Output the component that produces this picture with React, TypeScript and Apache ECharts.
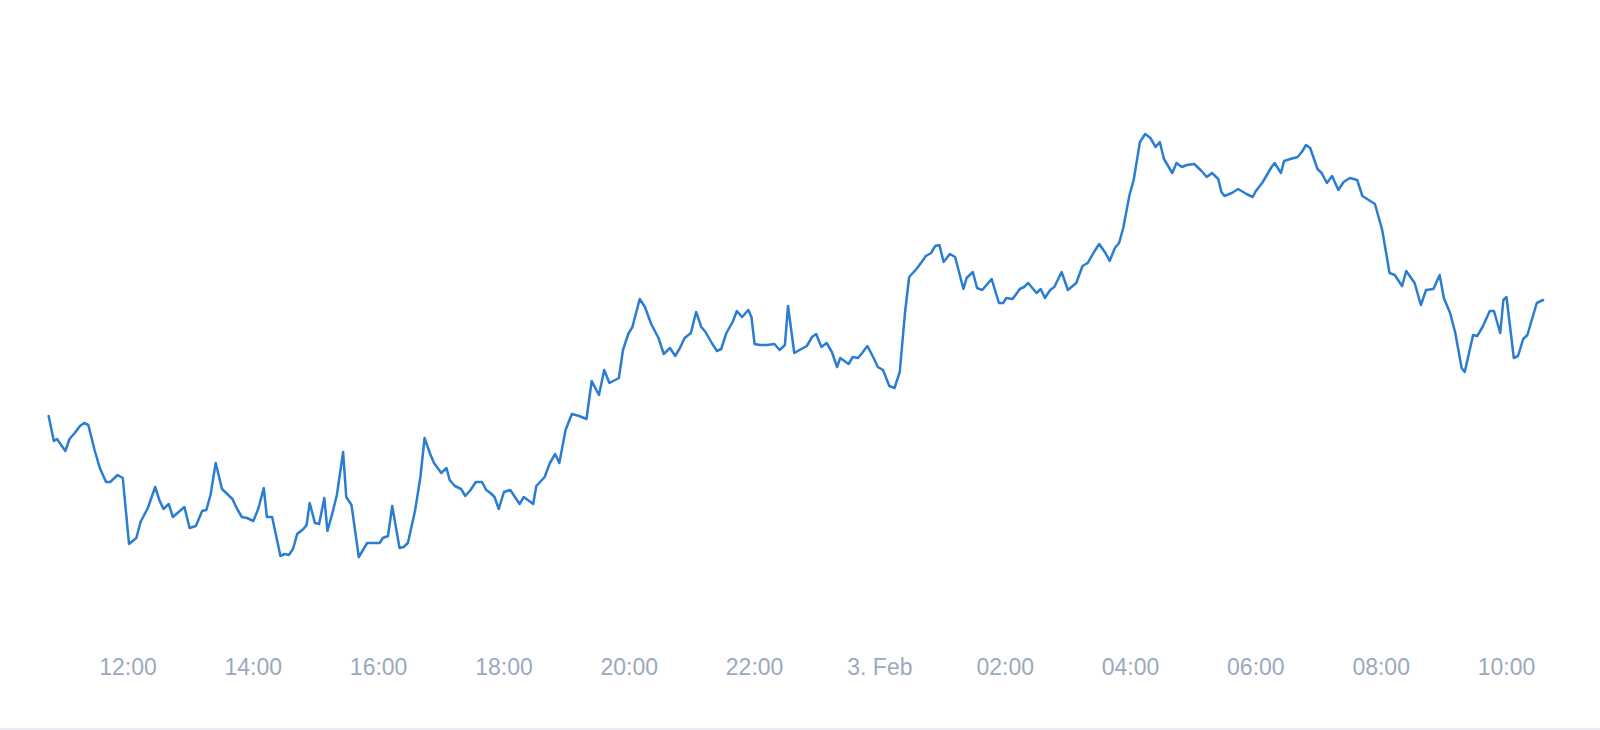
import React, { useEffect, useRef } from "react";
import * as echarts from "echarts";

// Time of each reading (2 Feb, rolling over to 3 Feb after midnight)
const times: string[] = [
  "10:44","10:49","10:52","11:00","11:04","11:09","11:14","11:18","11:22","11:28",
  "11:33","11:39","11:43","11:50","11:55","12:01","12:08","12:12","12:19","12:26",
  "12:30","12:34","12:39","12:43","12:54","12:59","13:05","13:11","13:15","13:19",
  "13:24","13:30","13:35","13:40","13:44","13:49","13:54","14:00","14:05","14:10",
  "14:13","14:18","14:26","14:30","14:34","14:38","14:42","14:48","14:51","14:54",
  "14:59","15:03","15:08","15:11","15:16","15:20","15:26","15:29","15:34","15:41",
  "15:45","15:49","15:55","16:01","16:04","16:09","16:13","16:20","16:24","16:28",
  "16:35","16:40","16:44","16:49","16:53","17:00","17:05","17:08","17:13","17:19",
  "17:23","17:28","17:33","17:39","17:43","17:47","17:51","17:55","18:00","18:06",
  "18:15","18:19","18:28","18:31","18:39","18:44","18:49","18:53","18:59","19:05",
  "19:12","19:19","19:24","19:31","19:36","19:41","19:50","19:54","19:59","20:03",
  "20:10","20:15","20:21","20:28","20:33","20:39","20:44","20:49","20:53","20:59",
  "21:04","21:09","21:13","21:19","21:24","21:28","21:33","21:39","21:43","21:48",
  "21:54","21:57","22:00","22:05","22:12","22:19","22:24","22:29","22:32","22:38",
  "22:43","22:50","22:55","22:59","23:04","23:09","23:14","23:19","23:22","23:30",
  "23:34","23:39","23:43","23:48","23:54","23:58","00:03","00:09","00:14","00:19",
  "00:24","00:28","00:35","00:40","00:44","00:49","00:53","00:57","01:01","01:07",
  "01:12","01:20","01:23","01:29","01:33","01:38","01:47","01:54","01:58","02:01",
  "02:07","02:14","02:18","02:22","02:30","02:34","02:38","02:43","02:47","02:54",
  "03:00","03:08","03:14","03:19","03:25","03:30","03:36","03:40","03:45","03:49",
  "03:53","03:59","04:03","04:09","04:14","04:19","04:24","04:28","04:32","04:40",
  "04:44","04:49","04:54","05:01","05:08","05:13","05:18","05:24","05:27","05:30",
  "05:37","05:43","05:51","05:57","06:00","06:06","06:10","06:15","06:18","06:24",
  "06:27","06:33","06:40","06:44","06:48","06:52","06:59","07:03","07:08","07:13",
  "07:19","07:24","07:30","07:37","07:42","07:48","07:54","08:01","08:08","08:13",
  "08:20","08:24","08:28","08:32","08:38","08:43","08:50","08:56","09:00","09:06",
  "09:11","09:17","09:20","09:28","09:32","09:37","09:44","09:48","09:54","09:57",
  "10:00","10:07","10:11","10:16","10:20","10:29","10:35"
];

const values: number[] = [
  18.4,15.9,16.1,14.9,16.1,16.7,17.4,17.7,17.5,15.0,
  13.2,11.8,11.8,12.5,12.2,5.6,6.2,7.8,9.2,11.3,
  10.0,9.1,9.6,8.3,9.3,7.2,7.4,8.9,9.0,10.5,
  13.7,11.1,10.6,10.1,9.2,8.3,8.2,7.9,9.2,11.2,
  8.3,8.3,4.4,4.6,4.5,5.1,6.6,7.1,7.5,9.7,
  7.7,7.6,10.2,6.9,8.8,10.5,14.8,10.3,9.5,4.3,
  5.0,5.7,5.7,5.7,6.2,6.4,9.4,5.2,5.3,5.7,
  9.0,12.3,16.2,14.7,13.7,12.7,13.2,12.0,11.4,11.1,
  10.4,11.0,11.8,11.8,11.0,10.7,10.3,9.1,10.8,11.0,
  9.6,10.3,9.6,11.4,12.3,13.7,14.6,13.7,17.0,18.6,
  18.4,18.1,21.9,20.5,23.0,21.7,22.2,25.0,26.6,27.3,
  30.1,29.3,27.6,26.2,24.6,25.2,24.4,25.3,26.2,26.7,
  28.8,27.3,26.8,25.7,24.9,25.1,26.7,27.8,28.9,28.3,
  29.0,28.3,25.6,25.5,25.5,25.6,25.0,25.5,29.4,24.7,
  25.0,25.4,26.3,26.6,25.3,25.7,24.8,23.3,24.2,23.6,
  24.3,24.2,24.7,25.4,24.2,23.3,23.0,21.4,21.2,22.8,
  28.7,32.3,33.1,33.8,34.4,34.7,35.4,35.5,33.8,34.6,
  34.3,31.1,32.2,32.8,31.2,31.0,32.1,29.7,29.7,30.2,
  30.1,31.1,31.3,31.7,30.7,31.1,30.2,31.0,31.3,32.8,
  31.0,31.7,33.4,33.7,34.8,35.6,34.7,33.9,35.2,35.7,
  37.2,40.5,42.0,45.8,46.6,46.2,45.3,45.8,44.1,42.7,
  43.7,43.3,43.5,43.6,42.9,42.3,42.7,42.1,40.8,40.4,
  40.7,41.1,40.6,40.3,40.9,41.7,42.4,43.3,43.7,42.7,
  43.9,44.1,44.3,44.8,45.5,45.2,43.1,42.7,41.7,42.4,
  41.0,41.8,42.2,42.0,40.4,40.0,39.6,37.0,32.7,32.5,
  31.4,32.9,32.3,31.7,29.5,31.0,31.1,32.5,30.2,28.7,
  26.7,23.2,22.8,26.5,26.4,27.3,28.9,28.9,26.7,30.0,
  30.3,24.2,24.4,26.1,26.5,29.7,30.0
];

const HOUR = 3600 * 1000;
const BASE = Date.UTC(2023, 1, 2); // 2 Feb, 00:00 UTC

function toTimestamps(list: string[]): number[] {
  let dayOffset = 0;
  let prev = -1;
  return list.map((t) => {
    const [h, m] = t.split(":").map(Number);
    const mins = h * 60 + m;
    if (mins < prev) dayOffset += 1440;
    prev = mins;
    return BASE + (mins + dayOffset) * 60000;
  });
}

const pad = (n: number) => (n < 10 ? "0" + n : "" + n);

export default function App() {
  const ref = useRef<HTMLDivElement>(null);

  useEffect(() => {
    if (!ref.current) return;
    const chart = echarts.init(ref.current, undefined, { renderer: "svg" });
    const ts = toTimestamps(times);
    const data = ts.map((t, i) => [t, values[i]]);

    chart.setOption({
      animation: false,
      backgroundColor: "#ffffff",
      grid: { left: 2.68, right: 30.84, top: 0, bottom: 130, containLabel: false },
      xAxis: {
        type: "value",
        min: BASE + 10 * HOUR,
        max: BASE + 35 * HOUR,
        interval: 2 * HOUR,
        axisLine: { show: false },
        axisTick: { show: false },
        splitLine: { show: false },
        axisLabel: {
          showMinLabel: false,
          showMaxLabel: false,
          margin: 55,
          fontSize: 23,
          fontFamily: "'Liberation Sans', Arial, sans-serif",
          color: "#9aa9bd",
          formatter: (v: number) => {
            const d = new Date(v);
            const h = d.getUTCHours();
            const m = d.getUTCMinutes();
            if (h === 0 && m === 0) return d.getUTCDate() + ". Feb";
            return pad(h) + ":" + pad(m);
          },
        },
      },
      yAxis: {
        type: "value",
        show: false,
        min: 0,
        max: 60,
      },
      series: [
        {
          type: "line",
          data,
          showSymbol: false,
          symbol: "none",
          lineStyle: { color: "#2b7dd2", width: 2.5, join: "round", cap: "round" },
          itemStyle: { color: "#2b7dd2" },
        },
      ],
      graphic: [
        {
          type: "rect",
          left: 0,
          top: 728,
          shape: { x: 0, y: 0, width: 1600, height: 2 },
          style: { fill: "#e9edf2" },
          silent: true,
        },
      ],
    });

    return () => chart.dispose();
  }, []);

  return (
    <div
      ref={ref}
      style={{ position: "fixed", left: 0, top: 0, width: 1600, height: 730, background: "#fff" }}
    />
  );
}
